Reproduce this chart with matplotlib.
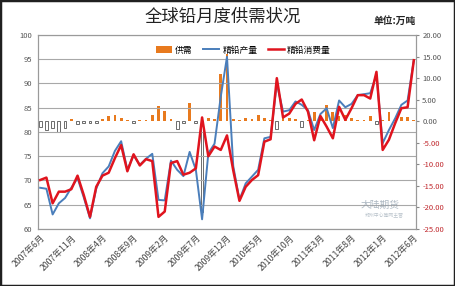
import pandas as pd
import numpy as np
import matplotlib.pyplot as plt
from matplotlib.patches import Patch, Rectangle
from matplotlib.lines import Line2D

plt.rcParams['font.family'] = ['Noto Sans CJK SC', 'DejaVu Sans']

# 2007-06 .. 2012-06, monthly
months = pd.date_range('2007-06-01', '2012-06-01', freq='MS')
month_labels = [f'{d.year}年{d.month}月' for d in months]

# 精铅产量 (万吨)
production = [68.5, 68.3, 63.0, 65.3, 66.4, 68.5, 70.5, 66.5, 62.2, 68.3,
              71.5, 72.9, 76.1, 78.1, 72.2, 75.2, 73.2, 74.5, 75.5, 66.0,
              65.9, 74.1, 72.2, 70.9, 75.9, 72.2, 62.0, 75.6, 77.6, 87.3,
              95.5, 73.0, 66.0, 69.4, 70.8, 72.2, 78.7, 79.0, 90.0, 84.2,
              84.5, 86.3, 85.6, 84.5, 80.4, 83.7, 84.9, 80.8, 86.5, 85.1,
              85.8, 87.6, 87.8, 88.0, 91.8, 77.7, 80.4, 82.8, 85.6, 86.5,
              94.8]
# 精铅消费量 (万吨)
consumption = [70.1, 70.6, 65.3, 67.7, 67.7, 68.2, 71.0, 67.0, 62.5, 68.7,
               71.0, 71.6, 74.6, 77.3, 71.9, 75.4, 73.1, 74.4, 74.0, 62.5,
               63.6, 73.6, 74.0, 71.2, 71.6, 72.5, 83.0, 75.0, 77.0, 76.3,
               79.3, 72.1, 65.8, 68.7, 70.1, 71.1, 78.0, 78.5, 91.1, 83.0,
               83.8, 85.8, 86.7, 84.2, 78.3, 83.3, 81.1, 78.7, 85.2, 82.5,
               84.9, 87.6, 87.6, 86.9, 92.4, 76.3, 78.4, 81.8, 84.9, 85.1,
               94.8]
# 供需 (万吨, right axis)
balance = [-1.4, -2.0, -1.5, -2.4, -1.5, 0.4, -0.6, -0.5, -0.5, -0.5,
           0.5, 1.3, 1.5, 0.8, 0.3, -0.3, 0.2, 0.2, 1.5, 3.5,
           2.3, 0.5, -1.8, -0.3, 4.3, -0.3, -21.0, 0.8, 0.6, 11.0,
           15.5, 0.6, 0.2, 0.7, 0.6, 1.5, 0.7, 0.3, -1.8, 0.8,
           0.7, 0.4, -1.3, 0.3, 2.1, 0.4, 3.8, 2.1, 1.3, 1.5,
           0.8, 0.2, 0.2, 1.1, -0.6, 0.3, 2.2, 0.3, 1.0, 1.0,
           0.3]

x = np.arange(len(months))
bal = np.array(balance)

fig = plt.figure(figsize=(4.55, 2.86), dpi=100)
fig.patch.set_facecolor('white')
fig.patches.append(Rectangle((0, 0), 1, 1, transform=fig.transFigure,
                             fill=False, edgecolor='#202020', linewidth=2.5))

pos = [38 / 455, 1 - 229 / 286, (416 - 38) / 455, (229 - 35) / 286]
ax_bar = fig.add_axes(pos)
ax_line = ax_bar.twinx()

# bars (right scale), drawn underneath the lines
pos_mask = bal >= 0
ax_bar.bar(x[pos_mask], bal[pos_mask], width=0.45, color='#E87A1E', zorder=2)
ax_bar.bar(x[~pos_mask], bal[~pos_mask], width=0.45, facecolor='white',
           edgecolor='#555555', linewidth=0.6, zorder=2)
ax_bar.set_ylim(-25, 20)
ax_bar.set_yticks(np.arange(-25, 21, 5))
ax_bar.yaxis.tick_right()
ax_bar.yaxis.set_label_position('right')
ax_bar.set_yticklabels([f'{v:.2f}' for v in np.arange(-25, 21, 5)])
for lab, v in zip(ax_bar.get_yticklabels(), np.arange(-25, 21, 5)):
    lab.set_color('#C0282D' if v < 0 else '#555555')
ax_bar.tick_params(axis='y', labelsize=5.5, length=2.5, color='#888888', pad=2)

# lines (left scale)
ax_line.plot(x, production, color='#4A7EBB', linewidth=1.4, zorder=3)
ax_line.plot(x, consumption, color='#E0141E', linewidth=1.8, zorder=4)
ax_line.set_ylim(60, 100)
ax_line.set_yticks(np.arange(60, 101, 5))
ax_line.yaxis.tick_left()
ax_line.yaxis.grid(True, color='#A8A8A8', linewidth=0.8)
ax_line.set_axisbelow(True)
ax_line.tick_params(axis='y', labelsize=5.5, length=0, colors='#555555', pad=4)

ax_bar.set_xlim(-0.35, 60.35)
ax_bar.set_xticks(x[::5])
ax_bar.set_xticklabels(month_labels[::5], rotation=45, ha='right',
                       rotation_mode='anchor', fontsize=6.3, color='#444444')
ax_bar.tick_params(axis='x', length=0, pad=3)

for a in (ax_bar, ax_line):
    for s in a.spines.values():
        s.set_color('#9A9A9A')
        s.set_linewidth(0.8)

fig.text(0.49, 0.94, '全球铅月度供需状况', ha='center', va='center',
         fontsize=12.5, color='#222222')
fig.text(0.868, 0.928, '单位:万吨', ha='center', va='center',
         fontsize=7, fontweight='bold', color='#222222')

handles = [Patch(facecolor='#E87A1E'),
           Line2D([], [], color='#4A7EBB', linewidth=1.4),
           Line2D([], [], color='#E0141E', linewidth=1.8)]
fig.legend(handles, ['供需', '精铅产量', '精铅消费量'], loc='center',
           bbox_to_anchor=(0.535, 0.825), ncol=3, frameon=False,
           fontsize=6.3, handlelength=1.8, handletextpad=0.4,
           columnspacing=1.2)

# watermark
fig.text(0.835, 0.285, '大陆期货', fontsize=7, color='#8a9aa8', alpha=0.7,
         ha='center', va='center')
fig.text(0.845, 0.245, '郑州中心等网主营', fontsize=3.5, color='#8a9aa8',
         alpha=0.6, ha='center', va='center')

fig.savefig('out.png', dpi=100)
